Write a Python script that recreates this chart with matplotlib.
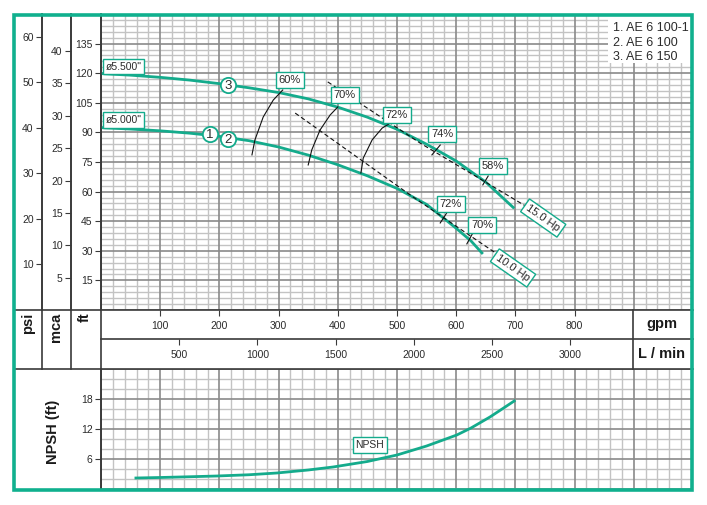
import matplotlib
matplotlib.use("Agg")
import matplotlib.pyplot as plt
from matplotlib.lines import Line2D
from matplotlib.patches import Rectangle
import numpy as np

plt.rcParams["font.family"] = ["Liberation Sans", "DejaVu Sans"]

GREEN = "#14ab8c"
BORDER = "#10b08e"
DARK = "#3a3a3a"
MINOR = "#c3c3c3"
MAJOR = "#8a8a8a"
TXT = "#2b2b2b"

# --- data (gpm / ft) ---
q_d550 = [0, 50, 100, 150, 200, 250, 300, 350, 400, 450, 500, 550, 600, 650, 698]
h_d550 = [119.8, 119.0, 117.9, 116.5, 114.7, 112.6, 110.2, 107.0, 102.8, 97.7, 91.6, 84.0, 75.5, 64.8, 51.5]
q_d500 = [0, 50, 100, 150, 200, 250, 300, 350, 400, 450, 500, 550, 600, 625, 645]
h_d500 = [92.4, 91.7, 90.8, 89.6, 88.0, 85.8, 82.6, 78.5, 73.6, 68.0, 61.6, 53.5, 41.4, 35.0, 28.4]

eff_arcs = {
    "60%": ([255, 260, 274, 291, 307], [78.6, 86.2, 97.8, 106.4, 111.5]),
    "70%": ([350, 356, 370, 387, 400], [73.5, 81.1, 91.2, 98.8, 102.9]),
    "72%": ([439, 443, 458, 475, 492], [69.4, 77.0, 86.2, 92.2, 95.3]),
}
eff_ticks = [
    ([559, 573], [78.6, 83.6]),
    ([645, 654], [63.4, 67.9]),
    ([573, 584], [44.1, 49.2]),
    ([618, 628], [33.5, 39.0]),
]
eff_labels = ["60%", "70%", "72%", "74%", "58%", "72%", "70%"]
eff_label_q = [319, 412, 500, 576, 662, 591, 644]
eff_label_h = [116.6, 109.0, 98.8, 89.2, 73.0, 53.7, 43.1]

hp_labels = ["15.0 Hp", "10.0 Hp"]
hp_line_q = [[383, 539, 720], [328, 527, 669]]
hp_line_h = [[115.6, 84.6, 52.2], [99.8, 57.3, 28.4]]
hp_label_q = [747, 696]
hp_label_h = [46.6, 21.3]

marker_ids = ["3", "1", "2"]
marker_q = [214.5, 184, 214.5]
marker_h = [114.0, 89.2, 86.7]

dia_labels = ['ø5.500"', 'ø5.000"']
dia_label_h = [123.2, 96.3]

models = ["1. AE 6 100-1", "2. AE 6 100", "3. AE 6 150"]

npsh_q = [59, 100, 150, 196, 250, 297, 350, 392, 450, 500, 550, 601, 625, 657, 675, 698]
npsh_ft = [2.2, 2.3, 2.45, 2.6, 2.85, 3.2, 3.8, 4.4, 5.5, 6.8, 8.6, 10.8, 12.2, 14.4, 15.8, 17.6]

gpm_ticks = [100, 200, 300, 400, 500, 600, 700, 800]
lmin_ticks = [500, 1000, 1500, 2000, 2500, 3000]
ft_ticks = [15, 30, 45, 60, 75, 90, 105, 120, 135]
mca_ticks = [5, 10, 15, 20, 25, 30, 35, 40]
psi_ticks = [10, 20, 30, 40, 50, 60]
npsh_ticks = [6, 12, 18]

FT_PER_PSI = 2.3067
M_PER_FT = 0.3048
LPM_PER_GPM = 3.785

# --- layout in pixels ---
W, H = 707, 505
PX_GPM = 0.592
X0 = 101
QMAX = 1000
X_GPM_END = 633

fig = plt.figure(figsize=(W / 100, H / 100), dpi=100, facecolor="white")


def px_axes(x0, y0, x1, y1):
    return fig.add_axes([x0 / W, 1 - y1 / H, (x1 - x0) / W, (y1 - y0) / H])


def fig_line(xs, ys, **kw):
    fig.add_artist(Line2D([x / W for x in xs], [1 - y / H for y in ys], **kw))


def grid_axes(ax, xminor, yminor, xmajor, ymajor, xmax, ymax):
    for v in np.arange(0, xmax + 0.1, xminor):
        major = abs(v / xmajor - round(v / xmajor)) < 1e-6
        ax.axvline(v, color=MAJOR if major else MINOR, lw=1.2 if major else 1.0, zorder=0.5 if major else 0.4)
    for v in np.arange(0, ymax + 0.1, yminor):
        major = abs(v / ymajor - round(v / ymajor)) < 1e-6
        ax.axhline(v, color=MAJOR if major else MINOR, lw=1.2 if major else 1.0, zorder=0.5 if major else 0.4)


def scale_style(ax, ticks):
    for s in ["top", "right", "bottom"]:
        ax.spines[s].set_visible(False)
    ax.spines["left"].set_color(DARK)
    ax.spines["left"].set_linewidth(1.2)
    ax.set_xticks([])
    ax.set_yticks(ticks)
    ax.tick_params(axis="y", direction="out", length=4, width=0.8, color=DARK,
                   labelsize=7.5, labelcolor=TXT, pad=2)
    ax.patch.set_alpha(0)


# main chart
ax = px_axes(X0, 14, X0 + QMAX * PX_GPM, 310)
ax.set_xlim(0, QMAX)
ax.set_ylim(0, 150)
grid_axes(ax, 20, 3, 100, 15, QMAX, 150)
scale_style(ax, ft_ticks)

ax.plot(q_d550, h_d550, color=GREEN, lw=2.0, solid_capstyle="butt", solid_joinstyle="round", zorder=3)
ax.plot(q_d500, h_d500, color=GREEN, lw=2.0, solid_capstyle="butt", solid_joinstyle="round", zorder=3)

for name, (qs, hs) in eff_arcs.items():
    ax.plot(qs, hs, color="#111111", lw=0.8, zorder=4)
for qs, hs in eff_ticks:
    ax.plot(qs, hs, color="#111111", lw=0.8, zorder=4)
for qs, hs in zip(hp_line_q, hp_line_h):
    ax.plot(qs, hs, color="#111111", lw=0.8, ls=(0, (4, 2.5)), zorder=4)

box = dict(boxstyle="square,pad=0.25", fc="white", ec=GREEN, lw=1.0)
for t, q, h in zip(eff_labels, eff_label_q, eff_label_h):
    ax.text(q, h, t, fontsize=8, color=TXT, ha="center", va="center", bbox=box, zorder=6)
for t, q, h in zip(hp_labels, hp_label_q, hp_label_h):
    ax.text(q, h, t, fontsize=8, color=TXT, ha="center", va="center", rotation=-35,
            rotation_mode="anchor", bbox=box, zorder=6)
for t, h in zip(dia_labels, dia_label_h):
    ax.text(8, h, t, fontsize=7.5, color=TXT, ha="left", va="center", bbox=box, zorder=6)

ax.plot(marker_q, marker_h, "o", ms=11, mfc="white", mec=GREEN, mew=1.3, zorder=6, ls="none")
for t, q, h in zip(marker_ids, marker_q, marker_h):
    ax.text(q, h - 0.3, t, fontsize=9.5, color=TXT, ha="center", va="center", zorder=7)

# pressure scales
ax_mca = px_axes(71, 14, X0, 310)
ax_mca.set_ylim(0, 150 * M_PER_FT)
scale_style(ax_mca, mca_ticks)
ax_psi = px_axes(42, 14, 71, 310)
ax_psi.set_ylim(0, 150 / FT_PER_PSI)
scale_style(ax_psi, psi_ticks)

# flow scales
gmax = (X_GPM_END - X0) / PX_GPM
for y0, y1, lim, ticks in [(310, 339, gmax, gpm_ticks), (339, 369, gmax * LPM_PER_GPM, lmin_ticks)]:
    a = px_axes(X0, y0, X_GPM_END, y1)
    a.set_xlim(0, lim)
    a.set_ylim(0, 1)
    a.set_yticks([])
    a.set_xticks(ticks)
    for s in a.spines.values():
        s.set_visible(False)
    a.tick_params(axis="x", top=True, bottom=False, labeltop=True, labelbottom=False,
                  direction="in", length=4, width=0.8, color=DARK, labelsize=7.5,
                  labelcolor=TXT, pad=-15)

# NPSH chart
ax_n = px_axes(X0, 369, X0 + QMAX * PX_GPM, 489)
ax_n.set_xlim(0, QMAX)
ax_n.set_ylim(0, 24)
grid_axes(ax_n, 20, 2, 100, 6, QMAX, 24)
scale_style(ax_n, npsh_ticks)
ax_n.plot(npsh_q, npsh_ft, color=GREEN, lw=2.0, solid_joinstyle="round", zorder=3)
ax_n.text(454, 8.8, "NPSH", fontsize=7.5, color=TXT, ha="center", va="center", bbox=box, zorder=6)

# frame lines
lk = dict(color=DARK, lw=1.2, zorder=5)
fig_line([42, 42], [14, 369], **lk)
fig_line([71, 71], [14, 369], **lk)
fig_line([X0, X0], [14, 489], **lk)
fig_line([14, 693], [310, 310], **lk)
fig_line([X0, 693], [339, 339], **lk)
fig_line([14, 693], [369, 369], **lk)
fig_line([X_GPM_END, X_GPM_END], [310, 369], **lk)

# header labels
hk = dict(fontsize=10.5, fontweight="bold", color="#1a1a1a", zorder=6)
fig.text(28 / W, 1 - 313 / H, "psi", rotation=90, ha="center", va="top", **hk)
fig.text(56 / W, 1 - 313 / H, "mca", rotation=90, ha="center", va="top", **hk)
fig.text(85 / W, 1 - 312 / H, "ft", rotation=90, ha="center", va="top", **hk)
fig.text(662 / W, 1 - 324 / H, "gpm", ha="center", va="center", **hk)
fig.text(662 / W, 1 - 354 / H, "L / min", ha="center", va="center", **hk)
fig.text(53 / W, 1 - 432 / H, "NPSH (ft)", rotation=90, ha="center", va="center", **hk)

# model legend
fig.add_artist(Rectangle((608 / W, 1 - 63 / H), 84 / W, 49 / H, transform=fig.transFigure,
                         fc="white", ec="none", zorder=5))
for i, m in enumerate(models):
    fig.text(613 / W, 1 - (28 + 14.5 * i) / H, m, fontsize=9, color=TXT, ha="left", va="center", zorder=6)

# outer border
fig.add_artist(Rectangle((13.5 / W, 1 - 489.5 / H), 678 / W, 475 / H, transform=fig.transFigure,
                         fc="none", ec=BORDER, lw=2.6, zorder=10))

fig.savefig("out.png", dpi=100, facecolor="white")
